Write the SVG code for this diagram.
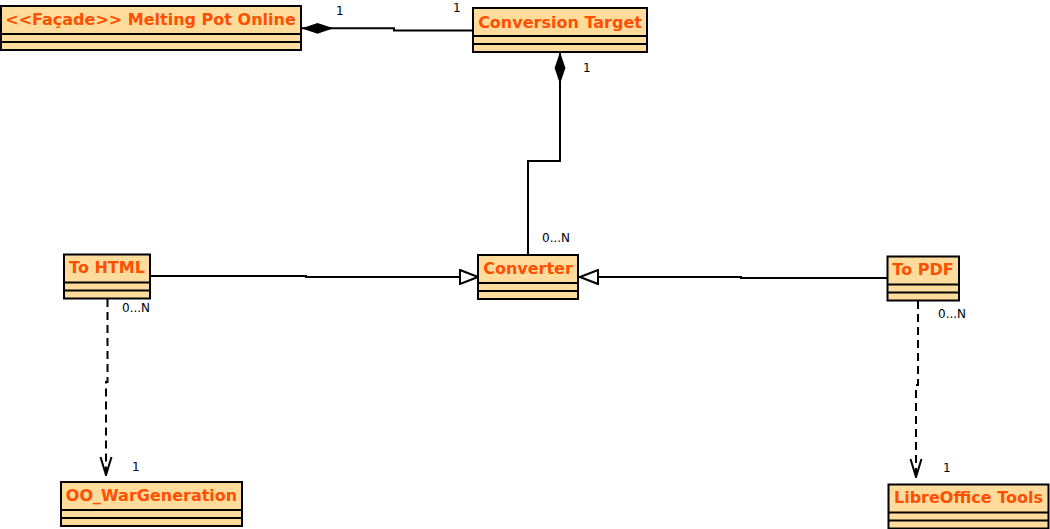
<svg xmlns="http://www.w3.org/2000/svg" width="1050" height="529" viewBox="0 0 1050 529">
<style>
.box{fill:#ffdc9c;stroke:#000;stroke-width:2}
.sep{stroke:#000;stroke-width:2;fill:none}
.name{font-family:"DejaVu Sans",sans-serif;font-weight:bold;font-size:16px;fill:#ff4f00;text-anchor:middle}
.mult{font-family:"DejaVu Sans",sans-serif;font-size:12px;fill:#000}
.line{stroke:#000;stroke-width:2;fill:none}
.dash{stroke:#000;stroke-width:2;fill:none;stroke-dasharray:8,5}
</style>
<defs>
<marker id="diamond" viewBox="0 0 32 12" refX="0" refY="6" markerWidth="32" markerHeight="12" markerUnits="userSpaceOnUse" orient="auto">
<path d="M0,6 L16,0.6 L32,6 L16,11.4 Z" fill="#000"/>
</marker>
<marker id="tri" viewBox="0 0 20 16" refX="19" refY="8" markerWidth="20" markerHeight="16" markerUnits="userSpaceOnUse" orient="auto">
<path d="M1,1 L19,8 L1,15 Z" fill="#fff" stroke="#000" stroke-width="2"/>
</marker>
<marker id="open" viewBox="0 0 20 14" refX="19" refY="7" markerWidth="20" markerHeight="14" markerUnits="userSpaceOnUse" orient="auto">
<path d="M1,1.5 L19,7 L1,12.5" fill="none" stroke="#000" stroke-width="2"/>
</marker>
</defs>

<g id="connectors">
<path class="line" d="M301.5,28.3 L394,28.3 L394,30.5 L473,30.5" marker-start="url(#diamond)"/>
<path class="line" d="M560,52 L560,161 L528,161 L528,254" marker-start="url(#diamond)"/>
<path class="line" d="M150,276 L306,276 L306,277 L478,277" marker-end="url(#tri)"/>
<path class="line" d="M887,278 L741,278 L741,277 L580,277" marker-end="url(#tri)"/>
<path class="dash" d="M107.5,299 L107.5,382 L106,382 L106,475" marker-end="url(#open)"/>
<path class="dash" d="M918,301 L918,385 L916,385 L916,477" marker-end="url(#open)"/>
<text class="mult" x="336" y="15">1</text>
<text class="mult" x="453" y="12">1</text>
<text class="mult" x="583" y="72">1</text>
<text class="mult" x="542" y="242">0...N</text>
<text class="mult" x="122" y="312">0...N</text>
<text class="mult" x="938" y="318">0...N</text>
<text class="mult" x="132" y="471">1</text>
<text class="mult" x="943" y="472">1</text>
</g>

<g id="facade">
<rect class="box" x="1" y="6" width="300" height="44"/>
<path class="sep" d="M1,34 H301 M1,42 H301"/>
<text class="name" x="150.5" y="25">&lt;&lt;Façade&gt;&gt; Melting Pot Online</text>
</g>

<g id="conversion-target">
<rect class="box" x="473" y="8" width="174" height="44"/>
<path class="sep" d="M473,36 H647 M473,44 H647"/>
<text class="name" x="560" y="27.5">Conversion Target</text>
</g>

<g id="converter">
<rect class="box" x="478" y="255" width="100" height="44"/>
<path class="sep" d="M478,283 H578 M478,291 H578"/>
<text class="name" x="528" y="274">Converter</text>
</g>

<g id="to-html">
<rect class="box" x="64" y="254.5" width="86" height="44"/>
<path class="sep" d="M64,282.5 H150 M64,290.5 H150"/>
<text class="name" x="107" y="273">To HTML</text>
</g>

<g id="to-pdf">
<rect class="box" x="887.5" y="256.5" width="71.5" height="44"/>
<path class="sep" d="M887.5,284.5 H959 M887.5,292.5 H959"/>
<text class="name" x="923" y="275">To PDF</text>
</g>

<g id="oo-wargeneration">
<rect class="box" x="61" y="482" width="181" height="44"/>
<path class="sep" d="M61,510 H242 M61,518 H242"/>
<text class="name" x="151.5" y="501">OO_WarGeneration</text>
</g>

<g id="libreoffice-tools">
<rect class="box" x="888.5" y="484.5" width="160" height="44"/>
<path class="sep" d="M888.5,512.5 H1048.5 M888.5,520.5 H1048.5"/>
<text class="name" x="968.5" y="503">LibreOffice Tools</text>
</g>
</svg>
